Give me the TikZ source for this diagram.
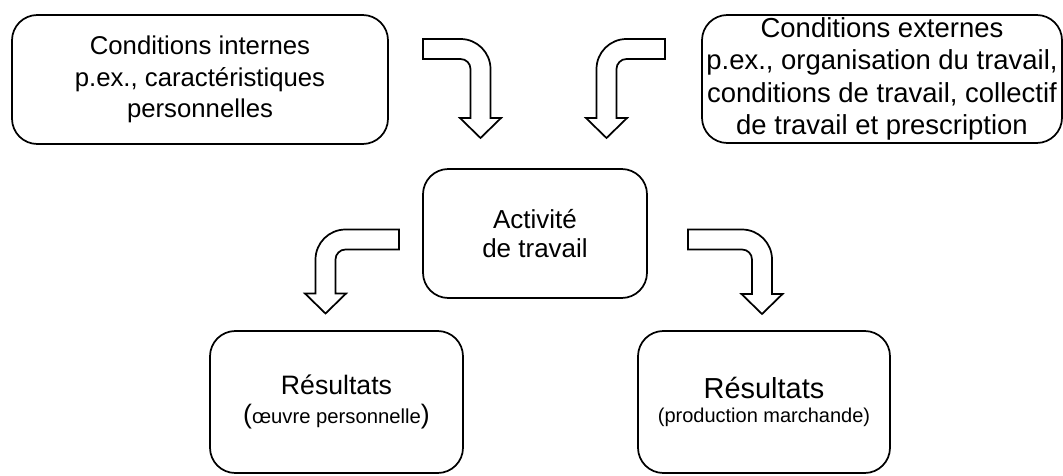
\documentclass[tikz,border=0pt]{standalone}
\usepackage{fontspec}
\setmainfont{Liberation Sans}
\usepackage{tikz}
\usetikzlibrary{positioning, calc}
\tikzstyle{Box} = [
draw,
line width=1.3pt,
rounded corners=19pt,
align=center,
inner sep=0pt,
outer sep=0pt]
\tikzstyle{BlockArrow} = [
draw,
line width=1.3pt,
fill=white,
line join=miter]
\newcommand{\BentArrow}[3]{%
\draw[BlockArrow] let \p1=(#1), \p2=(#2) in
(\x1,{\y1+7.5pt}) -- ({\x2+#3*(7.5pt-22.5pt)},{\y1+7.5pt})
arc[start angle=90, end angle={90-#3*90}, radius=22.5pt]
-- ({\x2+#3*7.5pt},{\y2+15pt}) -- ({\x2+#3*15.4pt},{\y2+15pt})
-- (\x2,\y2) -- ({\x2-#3*15.4pt},{\y2+15pt}) -- ({\x2-#3*7.5pt},{\y2+15pt})
-- ({\x2-#3*7.5pt},{\y1-15pt})
arc[start angle={90-#3*90}, end angle=90, radius=7.5pt]
-- (\x1,{\y1-7.5pt}) -- cycle;}

\begin{document}
\begin{tikzpicture}[x=0.75pt, y=-0.75pt]
    \useasboundingbox (0,0) rectangle (1063,475);
    \node [Box, minimum width=168pt, minimum height=96.75pt,
        font=\fontsize{19.5}{21.2}\selectfont] (3) at (535,233.5) {Activité\\de travail};
    \node [Box, minimum width=282pt, minimum height=96.75pt,
        font=\fontsize{19.3}{23.6}\selectfont,
        above left =18.75pt and 26.25pt of 3] (1)
        {Conditions internes\\p.ex., caractéristiques\\personnelles};
    \node [Box, minimum width=270pt, minimum height=96pt,
        font=\fontsize{20.6}{24.2}\selectfont,
        above right =19.5pt and 41.25pt of 3] (2)
        {Conditions externes\\p.ex., organisation du travail,\\conditions de travail, collectif\\de travail et prescription};
    \node [Box, minimum width=189.75pt, minimum height=106.5pt,
        font=\fontsize{20}{21.3}\selectfont,
        below left =24.75pt and -30pt of 3] (4)
        {Résultats\\({\fontsize{15.2}{21.3}\selectfont œuvre personnelle})};
    \node [Box, minimum width=189pt, minimum height=106.5pt,
        font=\fontsize{21.7}{17.5}\selectfont,
        below right =24.75pt and -6.75pt of 3] (5)
        {Résultats\\{\fontsize{15}{17.5}\selectfont (production marchande)}};

    \coordinate (t1) at (423,49);
    \coordinate (h1) at (480.5,138);
    \coordinate (t2) at (665,49);
    \coordinate (h2) at (606.5,138);
    \coordinate (t3) at (399,239.5);
    \coordinate (h3) at (325.5,313.5);
    \coordinate (t4) at (688,239.5);
    \coordinate (h4) at (762,314);

    \BentArrow{t1}{h1}{1}
    \BentArrow{t2}{h2}{-1}
    \BentArrow{t3}{h3}{-1}
    \BentArrow{t4}{h4}{1}
\end{tikzpicture}
\end{document}
